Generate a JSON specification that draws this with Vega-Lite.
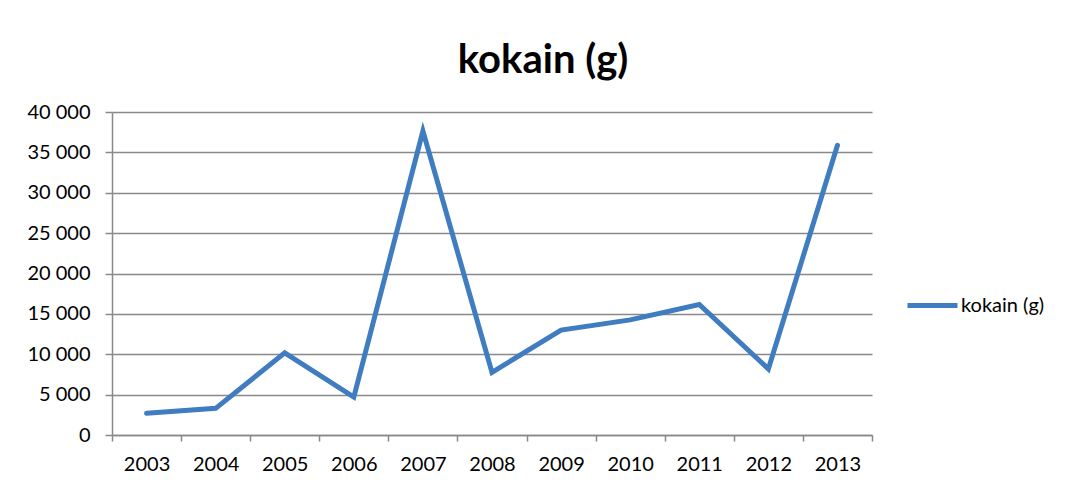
{
  "$schema": "https://vega.github.io/schema/vega-lite/v6.json",
  "width": 760,
  "height": 323,
  "autosize": {"type": "none"},
  "padding": {"left": 112, "top": 112, "right": 193, "bottom": 48},
  "background": "white",
  "config": {
    "locale": {"number": {"decimal": ",", "thousands": " ", "grouping": [3], "currency": ["", " kr"]}},
    "view": {"stroke": null},
    "font": "Lato"
  },
  "title": {
    "text": "kokain (g)",
    "font": "Lato",
    "fontSize": 40,
    "fontWeight": "bold",
    "color": "black",
    "anchor": "middle",
    "dx": 51,
    "offset": 21
  },
  "data": {
    "values": [
      {"year": "2003", "value": 2680},
      {"year": "2004", "value": 3300},
      {"year": "2005", "value": 10170},
      {"year": "2006", "value": 4700},
      {"year": "2007", "value": 37640},
      {"year": "2008", "value": 7760},
      {"year": "2009", "value": 13000},
      {"year": "2010", "value": 14260},
      {"year": "2011", "value": 16160},
      {"year": "2012", "value": 8180},
      {"year": "2013", "value": 35870}
    ]
  },
  "mark": {"type": "line", "strokeWidth": 5, "strokeJoin": "miter", "strokeCap": "round"},
  "encoding": {
    "x": {
      "field": "year",
      "type": "ordinal",
      "bandPosition": 0.5,
      "scale": {"type": "band", "paddingInner": 0, "paddingOuter": 0},
      "axis": {
        "title": null,
        "labelAngle": 0,
        "labelFont": "Lato",
        "labelFontSize": 20,
        "labelColor": "black",
        "labelPadding": 13,
        "tickBand": "extent",
        "tickSize": 6,
        "tickColor": "#898989",
        "tickWidth": 1.5,
        "domainColor": "#898989",
        "domainWidth": 1.5,
        "grid": false
      }
    },
    "y": {
      "field": "value",
      "type": "quantitative",
      "scale": {"domain": [0, 40000], "nice": false, "zero": true},
      "axis": {
        "title": null,
        "values": [0, 5000, 10000, 15000, 20000, 25000, 30000, 35000, 40000],
        "format": ",d",
        "labelFont": "Lato",
        "labelFontSize": 20,
        "labelColor": "black",
        "labelPadding": 15,
        "tickSize": 7,
        "tickColor": "#898989",
        "tickWidth": 1.5,
        "domainColor": "#898989",
        "domainWidth": 1.5,
        "grid": true,
        "gridColor": "#898989",
        "gridWidth": 1.5
      }
    },
    "color": {
      "datum": "kokain (g)",
      "type": "nominal",
      "scale": {"range": ["#3F7DC0"]},
      "legend": {
        "title": null,
        "orient": "none",
        "legendX": 793,
        "legendY": 166,
        "symbolType": "stroke",
        "symbolStrokeWidth": 5,
        "symbolSize": 2500,
        "labelFont": "Lato",
        "labelFontSize": 20,
        "labelColor": "black",
        "labelOffset": 1
      }
    }
  }
}
